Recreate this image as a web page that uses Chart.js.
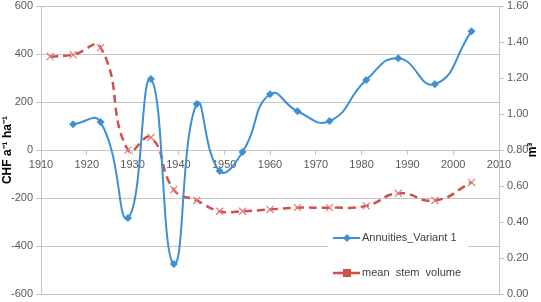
<!DOCTYPE html>
<html>
<head>
<meta charset="utf-8">
<script src="https://cdn.jsdelivr.net/npm/chart.js@4.4.1/dist/chart.umd.min.js"></script>
<style>
  html, body { margin: 0; padding: 0; background: #fff; }
  #wrap { width: 541px; height: 302px; position: relative; }
</style>
</head>
<body>
<div id="wrap"><canvas id="myChart"></canvas></div>
<script>
// annuities (left axis, CHF per year and ha)
var annuityYears = [1917, 1923, 1929, 1934, 1939, 1944, 1949, 1954, 1960, 1966, 1973, 1981, 1988, 1996, 2004];
var annuityValues = [108, 117, -283, 296, -475, 192, -87, -8, 233, 162, 121, 292, 383, 275, 496];

// mean stem volume (right axis, m3)
var volumeYears = [1912, 1917, 1923, 1929, 1934, 1939, 1944, 1949, 1954, 1960, 1966, 1973, 1981, 1988, 1996, 2004];
var volumeValues = [1.32, 1.33, 1.37, 0.80, 0.87, 0.58, 0.52, 0.46, 0.46, 0.47, 0.48, 0.48, 0.49, 0.56, 0.52, 0.62];

var seriesNames = ['Annuities_Variant 1', 'mean  stem  volume'];

var blue = '#3d8fd6';
var red = '#d0504a';
var gridCol = '#c4c4c4';
var tickCol = '#595959';

function pairs(xs, ys) {
    return xs.map(function (x, i) { return { x: x, y: ys[i] }; });
}

function noPad(s) {
    s.paddingTop = 0;
    s.paddingBottom = 0;
}

// legend box + right axis title, drawn by hand
var extras = {
    id: 'extras',
    afterDraw: function (chart) {
        var c = chart.ctx;
        c.save();
        c.fillStyle = '#fff';
        c.fillRect(328, 226, 140, 56);

        // item 1
        c.strokeStyle = blue;
        c.lineWidth = 2;
        c.beginPath(); c.moveTo(333, 238); c.lineTo(360, 238); c.stroke();
        c.fillStyle = blue;
        c.beginPath(); c.moveTo(347, 234); c.lineTo(351, 238); c.lineTo(347, 242); c.lineTo(343, 238); c.closePath(); c.fill();

        // item 2
        c.strokeStyle = red;
        c.lineWidth = 2.5;
        c.beginPath(); c.moveTo(333, 273); c.lineTo(360, 273); c.stroke();
        c.fillStyle = red;
        c.fillRect(343, 269, 8, 8);

        c.fillStyle = '#404040';
        c.font = '11px "Liberation Sans", Arial, sans-serif';
        c.textBaseline = 'middle';
        c.fillText(seriesNames[0], 362, 238);
        c.fillText(seriesNames[1], 362, 273);

        // right title
        c.translate(533, 150);
        c.rotate(-Math.PI / 2);
        c.textAlign = 'center';
        c.fillStyle = '#000';
        c.font = 'bold 12px "Liberation Sans", Arial, sans-serif';
        c.fillText('m³', 0, 0);
        c.restore();
    }
};

var ctx = document.getElementById('myChart').getContext('2d');
var myChart = new Chart(ctx, {
    type: 'line',
    data: {
        datasets: [{
            label: seriesNames[0],
            data: pairs(annuityYears, annuityValues),
            yAxisID: 'y',
            borderColor: blue,
            backgroundColor: blue,
            borderWidth: 2,
            pointStyle: 'rectRot',
            pointRadius: 4,
            pointBorderWidth: 0,
            tension: 0.5
        }, {
            label: seriesNames[1],
            data: pairs(volumeYears, volumeValues),
            yAxisID: 'y1',
            borderColor: red,
            backgroundColor: red,
            borderWidth: 2.5,
            borderDash: [8, 5],
            pointStyle: 'crossRot',
            pointRadius: 5,
            pointBorderColor: '#e07a78',
            pointBorderWidth: 1.2,
            tension: 0.5
        }]
    },
    options: {
        responsive: true,
        maintainAspectRatio: false,
        animation: false,
        layout: { padding: { top: 6, bottom: 8, left: 0, right: 0 } },
        plugins: {
            legend: { display: false },
            tooltip: { enabled: false }
        },
        scales: {
            x: {
                type: 'linear',
                min: 1910,
                max: 2010,
                position: { y: 0 },
                ticks: {
                    stepSize: 10, color: tickCol, font: { size: 11 }, padding: 4, maxRotation: 0,
                    callback: function (v) { return String(v); }
                },
                grid: { drawOnChartArea: false, tickLength: 4, color: gridCol },
                border: { color: gridCol }
            },
            y: {
                position: 'left',
                min: -600,
                max: 600,
                ticks: { stepSize: 200, color: tickCol, font: { size: 11 }, padding: 3 },
                grid: { color: gridCol, tickLength: 5 },
                border: { color: gridCol },
                title: { display: true, text: 'CHF a⁻¹ ha⁻¹', color: '#000', font: { size: 12, weight: 'bold' }, padding: 0 },
                afterFit: function (s) { s.width = 41; noPad(s); }
            },
            y1: {
                position: 'right',
                min: 0,
                max: 1.6,
                ticks: {
                    stepSize: 0.2, color: tickCol, font: { size: 11 }, padding: 3,
                    callback: function (v) { return v.toFixed(2); }
                },
                grid: { drawOnChartArea: false, tickLength: 5, color: gridCol },
                border: { color: gridCol },
                afterFit: function (s) { s.width = 42; noPad(s); }
            }
        }
    },
    plugins: [extras]
});
</script>
</body>
</html>
